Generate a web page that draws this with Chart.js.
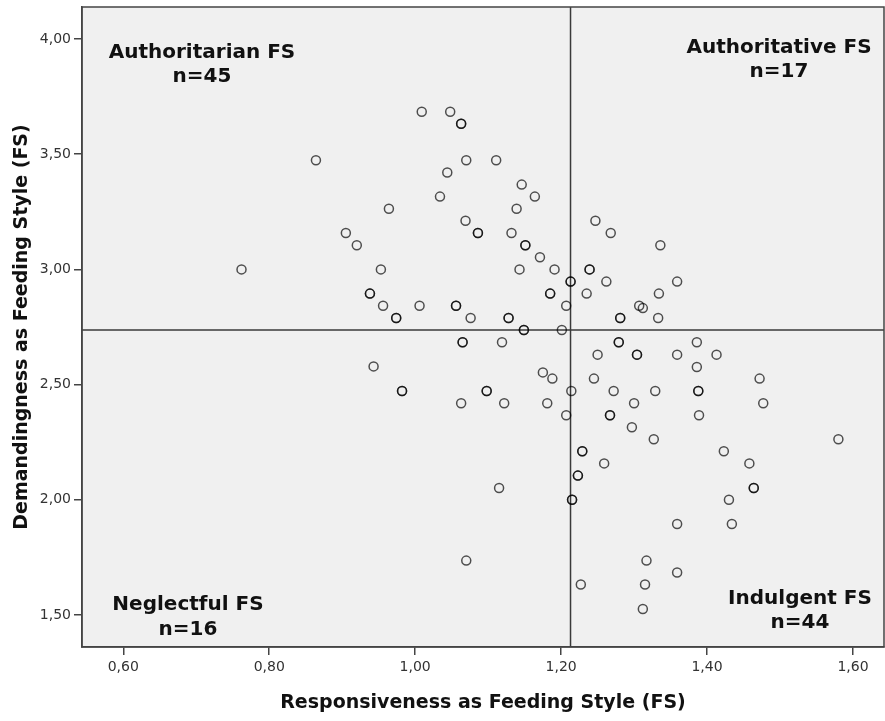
<!DOCTYPE html>
<html>
<head>
<meta charset="utf-8">
<title>Feeding style quadrants</title>
<script src="https://cdn.jsdelivr.net/npm/chart.js@4.4.1/dist/chart.umd.min.js"></script>
<style>
  html, body { margin: 0; padding: 0; background: #fff; overflow: hidden; }
  canvas { display: block; }
</style>
</head>
<body>
<canvas id="chart-fs" width="885" height="721"></canvas>
<script>
/* ── Data ─────────────────────────────────────────────── */
// responsiveness (x) / demandingness (y); repeated pairs = overlapping cases
const responsiveness = [
  // authoritarian
  1.009, 1.048, 1.063, 1.063, 0.864, 1.070, 1.111, 1.044, 1.146, 1.164, 1.034,
  0.964, 1.139, 1.069, 1.086, 1.086, 1.132, 0.905, 0.920, 1.151, 1.151, 1.171,
  0.762, 0.953, 1.143, 1.191, 0.938, 0.938, 1.185, 1.185, 0.956, 1.006, 1.056,
  1.056, 0.974, 0.974, 1.076, 1.128, 1.128, 1.207, 1.213, 1.213, 1.149, 1.149, 1.201,
  // authoritative
  1.247, 1.268, 1.336, 1.239, 1.239, 1.262, 1.359, 1.235, 1.334, 1.307, 1.312,
  1.281, 1.281, 1.333,
  // neglectful
  1.065, 1.065, 1.119, 0.943, 1.175, 1.188, 0.982, 0.982, 1.098, 1.098, 1.063,
  1.122, 1.181, 1.207, 1.115, 1.070,
  // indulgent
  1.279, 1.279, 1.386, 1.250, 1.304, 1.304, 1.359, 1.413, 1.386, 1.245, 1.472,
  1.214, 1.272, 1.329, 1.388, 1.388, 1.300, 1.477, 1.267, 1.267, 1.389, 1.297,
  1.327, 1.580, 1.229, 1.229, 1.423, 1.259, 1.458, 1.223, 1.223, 1.464, 1.464,
  1.215, 1.215, 1.430, 1.359, 1.434, 1.317, 1.359, 1.227, 1.315, 1.312
];
const demandingness = [
  // authoritarian
  3.684, 3.684, 3.632, 3.632, 3.474, 3.474, 3.474, 3.421, 3.368, 3.316, 3.316,
  3.263, 3.263, 3.211, 3.158, 3.158, 3.158, 3.158, 3.105, 3.105, 3.105, 3.053,
  3.000, 3.000, 3.000, 3.000, 2.895, 2.895, 2.895, 2.895, 2.842, 2.842, 2.842,
  2.842, 2.789, 2.789, 2.789, 2.789, 2.789, 2.842, 2.947, 2.947, 2.737, 2.737, 2.737,
  // authoritative
  3.211, 3.158, 3.105, 3.000, 3.000, 2.947, 2.947, 2.895, 2.895, 2.842, 2.832,
  2.789, 2.789, 2.789,
  // neglectful
  2.684, 2.684, 2.684, 2.579, 2.553, 2.526, 2.472, 2.472, 2.472, 2.472, 2.419,
  2.419, 2.419, 2.367, 2.051, 1.736,
  // indulgent
  2.684, 2.684, 2.684, 2.630, 2.630, 2.630, 2.630, 2.630, 2.576, 2.526, 2.526,
  2.472, 2.472, 2.472, 2.472, 2.472, 2.419, 2.419, 2.367, 2.367, 2.367, 2.315,
  2.263, 2.263, 2.211, 2.211, 2.211, 2.158, 2.158, 2.105, 2.105, 2.051, 2.051,
  2.000, 2.000, 2.000, 1.895, 1.895, 1.736, 1.684, 1.632, 1.632, 1.526
];

const xTicks = [0.60, 0.80, 1.00, 1.20, 1.40, 1.60];
const yTicks = [1.50, 2.00, 2.50, 3.00, 3.50, 4.00];
const xRange = [0.5434, 1.6425];
const yRange = [1.361, 4.139];

// cut-off lines (sample medians)
const cutResponsiveness = 1.2129;
const cutDemandingness  = 2.737;

const quadrantNames = ['Authoritarian FS', 'Authoritative FS', 'Neglectful FS', 'Indulgent FS'];
const quadrantN     = [45, 17, 16, 44];

/* ── Helpers ──────────────────────────────────────────── */
Chart.defaults.font.family = "'DejaVu Sans', sans-serif";
Chart.defaults.color = '#333';

const fmtComma = v => Number(v).toFixed(2).replace('.', ',');

const points = responsiveness.map((x, i) => ({ x, y: demandingness[i] }));

/* ── Plugins ──────────────────────────────────────────── */
// chart.js keeps a few px of right padding for the last tick label; take it back
const fullWidthArea = {
  id: 'fullWidthArea',
  afterLayout(chart) {
    const x = chart.scales.x;
    const right = chart.width - 1;
    chart.chartArea.right = right;
    chart.chartArea.width = right - chart.chartArea.left;
    x.right = right;
    x.width = right - x.left;
    x.configure();
  }
};

const plotBackground = {
  id: 'plotBackground',
  beforeDraw(chart) {
    const { ctx, chartArea: a } = chart;
    ctx.save();
    ctx.fillStyle = '#f0f0f0';
    ctx.fillRect(a.left, a.top, a.right - a.left, a.bottom - a.top);
    ctx.restore();
  }
};

const cutLines = {
  id: 'cutLines',
  beforeDatasetsDraw(chart) {
    const { ctx, chartArea: a, scales: { x, y } } = chart;
    const px = x.getPixelForValue(cutResponsiveness);
    const py = y.getPixelForValue(cutDemandingness);
    ctx.save();
    ctx.strokeStyle = '#3a3a3a';
    ctx.lineWidth = 1.5;
    ctx.beginPath();
    ctx.moveTo(px, a.top);    ctx.lineTo(px, a.bottom);
    ctx.moveTo(a.left, py);   ctx.lineTo(a.right, py);
    ctx.stroke();
    ctx.restore();
  }
};

const frameAndLabels = {
  id: 'frameAndLabels',
  afterDraw(chart) {
    const { ctx, chartArea: a } = chart;
    ctx.save();
    ctx.strokeStyle = '#444';
    ctx.lineWidth = 1.5;
    ctx.strokeRect(a.left, a.top, a.right - a.left, a.bottom - a.top);

    // quadrant captions: [centre x, baseline line 1, baseline line 2]
    const spots = [
      [a.left + 120,  a.top + 51,    a.top + 75],
      [a.right - 105, a.top + 46,    a.top + 70],
      [a.left + 106,  a.bottom - 37, a.bottom - 12],
      [a.right - 84,  a.bottom - 43, a.bottom - 19]
    ];
    ctx.fillStyle = '#111';
    ctx.font = "bold 20px 'DejaVu Sans', sans-serif";
    ctx.textAlign = 'center';
    ctx.textBaseline = 'alphabetic';
    spots.forEach(([cx, b1, b2], i) => {
      ctx.fillText(quadrantNames[i], cx, b1);
      ctx.fillText('n=' + quadrantN[i], cx, b2);
    });
    ctx.restore();
  }
};

/* ── Chart ────────────────────────────────────────────── */
new Chart(document.getElementById('chart-fs'), {
  type: 'scatter',
  data: {
    datasets: [{
      data: points,
      pointStyle: 'circle',
      pointRadius: 4.5,
      pointBorderWidth: 1.5,
      backgroundColor: 'rgba(0,0,0,0)',
      borderColor: 'rgba(0,0,0,0.68)',
    }],
  },
  options: {
    responsive: false, animation: false, events: [],
    layout: { padding: { top: 7, right: 1, bottom: 0, left: 0 } },
    plugins: { legend: { display: false }, tooltip: { enabled: false } },
    scales: {
      x: {
        type: 'linear', min: xRange[0], max: xRange[1],
        afterBuildTicks: s => { s.ticks = xTicks.map(v => ({ value: v })); },
        afterFit: s => { s.height = 74; s.paddingLeft = 0; s.paddingRight = 0; },
        ticks: { callback: fmtComma, color: '#333', font: { size: 14 }, padding: 4, maxRotation: 0 },
        grid: { drawOnChartArea: false, drawTicks: true, tickLength: 8, color: '#444', lineWidth: 1.5 },
        border: { display: true, color: '#444', width: 1.5 },
        title: {
          display: true, text: 'Responsiveness as Feeding Style (FS)', color: '#111',
          font: { size: 19, weight: 'bold' }, padding: { top: 0, bottom: 7 },
        },
      },
      y: {
        type: 'linear', min: yRange[0], max: yRange[1],
        afterBuildTicks: s => { s.ticks = yTicks.map(v => ({ value: v })); },
        afterFit: s => { s.width = 82; s.paddingTop = 0; s.paddingBottom = 0; },
        ticks: { callback: fmtComma, color: '#333', font: { size: 14 }, padding: 3 },
        grid: { drawOnChartArea: false, drawTicks: true, tickLength: 8, color: '#444', lineWidth: 1.5 },
        border: { display: true, color: '#444', width: 1.5 },
        title: {
          display: true, text: 'Demandingness as Feeding Style (FS)', color: '#111',
          font: { size: 19, weight: 'bold' }, padding: { top: 11, bottom: 0 },
        },
      },
    },
  },
  plugins: [fullWidthArea, plotBackground, cutLines, frameAndLabels],
});
</script>
</body>
</html>
